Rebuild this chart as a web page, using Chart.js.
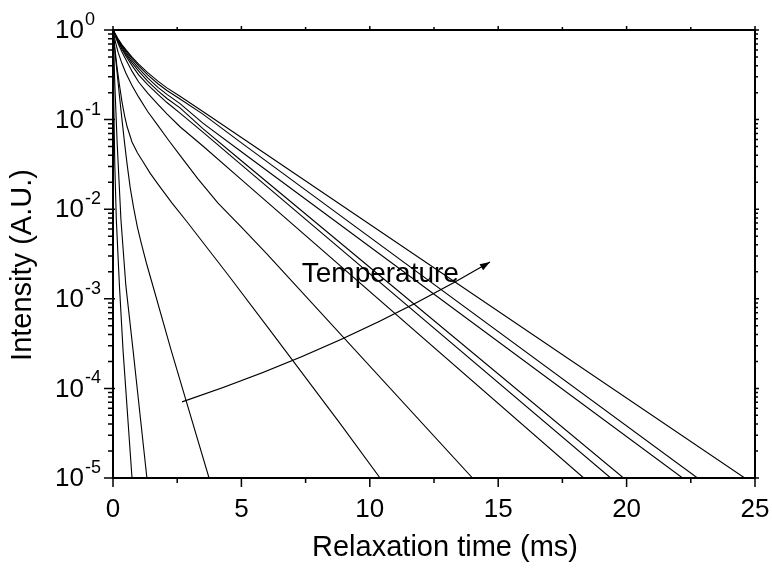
<!DOCTYPE html>
<html>
<head>
<meta charset="utf-8">
<script src="https://cdn.jsdelivr.net/npm/chart.js@4.4.0/dist/chart.umd.min.js"></script>
<style>
  html, body { margin: 0; padding: 0; background: #fff; }
</style>
</head>
<body>
<canvas id="chart" width="772" height="568"></canvas>
<script>
// decay curves, [time (ms), intensity], fastest first
const curveA = [[0, 1], [0.03, 0.158], [0.07, 0.0316], [0.13, 7.59e-3], [0.25, 1.41e-3], [0.39, 2.69e-4], [0.74, 1e-5]];
const curveB = [[0, 1], [0.07, 0.251], [0.16, 0.0562], [0.31, 7.59e-3], [0.5, 1.41e-3], [0.78, 2.69e-4], [1.32, 1e-5]];
const curveC = [[0, 1], [0.07, 0.603], [0.15, 0.355], [0.25, 0.186], [0.35, 0.1], [0.45, 0.055], [0.55, 0.0316], [0.67, 0.0174],
  [0.8, 0.0105], [0.95, 6.31e-3], [1.1, 4.17e-3], [1.3, 2.51e-3], [1.5, 1.58e-3], [2.26, 2.69e-4], [3.74, 1e-5]];
const curveD = [[0, 1], [0.07, 0.631], [0.15, 0.398], [0.25, 0.245], [0.35, 0.158], [0.45, 0.111], [0.55, 0.0832], [0.74, 0.0562],
  [0.95, 0.0427], [1.17, 0.0339], [1.45, 0.0251], [1.8, 0.0182], [2.3, 0.0117], [2.88, 7.24e-3], [4.5, 1.82e-3],
  [6.11, 4.47e-4], [8.84, 4.07e-5], [10.4, 1e-5]];
const curveE = [[0, 1], [0.1, 0.724], [0.2, 0.562], [0.35, 0.422], [0.5, 0.331], [0.75, 0.237], [1.0, 0.178], [1.35, 0.123],
  [1.71, 0.0891], [2.15, 0.0596], [2.61, 0.0398], [3.3, 0.0219], [4.09, 0.0117], [5, 6.31e-3], [6, 3.16e-3], [14.0, 1e-5]];
const curveF = [[0, 1], [0.2, 0.708], [0.35, 0.569], [0.5, 0.468], [0.75, 0.343], [1, 0.263], [1.35, 0.197], [1.75, 0.148],
  [2.1, 0.116], [2.61, 0.0832], [3.5, 0.0507], [5, 0.0214], [18.33, 1e-5]];
const curveG = [[0, 1], [0.2, 0.741], [0.35, 0.610], [0.5, 0.513], [0.75, 0.398], [1, 0.316], [1.35, 0.245], [1.75, 0.191],
  [2.1, 0.155], [2.61, 0.118], [3.5, 0.0724], [5, 0.0313], [19.38, 1e-5]];
const curveH = [[0, 1], [0.2, 0.759], [0.35, 0.631], [0.5, 0.537], [0.75, 0.427], [1, 0.347], [1.35, 0.269], [1.75, 0.209],
  [2.1, 0.172], [2.61, 0.135], [3.5, 0.0794], [5, 0.0347], [19.88, 1e-5]];
const curveI = [[0, 1], [0.2, 0.776], [0.35, 0.653], [0.5, 0.562], [0.75, 0.452], [1, 0.372], [1.35, 0.292], [1.75, 0.229],
  [2.1, 0.191], [2.61, 0.151], [3.5, 0.0912], [5, 0.0437], [22.18, 1e-5]];
const curveJ = [[0, 1], [0.2, 0.785], [0.35, 0.673], [0.5, 0.589], [0.75, 0.479], [1, 0.398], [1.35, 0.316], [1.75, 0.251],
  [2.1, 0.211], [2.61, 0.170], [3.5, 0.115], [5, 0.0550], [22.76, 1e-5]];
const curveK = [[0, 1], [0.2, 0.794], [0.35, 0.684], [0.5, 0.603], [0.75, 0.495], [1, 0.417], [1.35, 0.335], [1.75, 0.269],
  [2.1, 0.226], [2.61, 0.182], [3.5, 0.123], [5, 0.0631], [24.6, 1e-5]];
const curves = [curveA, curveB, curveC, curveD, curveE, curveF, curveG, curveH, curveI, curveJ, curveK];

const xTicks = [0, 5, 10, 15, 20, 25];
const yDecades = [1, 0.1, 0.01, 1e-3, 1e-4, 1e-5];
const yExponents = ['0', '-1', '-2', '-3', '-4', '-5'];
const xTitle = 'Relaxation time (ms)';
const yTitle = 'Intensity (A.U.)';

// arrow (start, through, end) and its label, in data units
const arrowPts = [[2.69, 7.08e-5], [8.84, 3.47e-4], [14.68, 2.57e-3]];
const arrowLabel = { text: 'Temperature', x: 7.35, y: 1.55e-3 };

const FONT = '"Liberation Sans", Arial, Helvetica, sans-serif';

const frame = {
  id: 'frame',
  afterDatasetsDraw(chart) {
    const { ctx, chartArea: a, scales: { x, y } } = chart;
    ctx.save();
    ctx.strokeStyle = '#000';
    ctx.fillStyle = '#000';

    // arrow
    const p = arrowPts.map(([u, v]) => [x.getPixelForValue(u), y.getPixelForValue(v)]);
    const cx = 2 * p[1][0] - (p[0][0] + p[2][0]) / 2;
    const cy = 2 * p[1][1] - (p[0][1] + p[2][1]) / 2;
    ctx.lineWidth = 1.2;
    ctx.beginPath();
    ctx.moveTo(p[0][0], p[0][1]);
    ctx.quadraticCurveTo(cx, cy, p[2][0], p[2][1]);
    ctx.stroke();
    const ang = Math.atan2(p[2][1] - cy, p[2][0] - cx);
    ctx.beginPath();
    ctx.moveTo(p[2][0], p[2][1]);
    ctx.lineTo(p[2][0] - 10 * Math.cos(ang) + 3.5 * Math.sin(ang), p[2][1] - 10 * Math.sin(ang) - 3.5 * Math.cos(ang));
    ctx.lineTo(p[2][0] - 10 * Math.cos(ang) - 3.5 * Math.sin(ang), p[2][1] - 10 * Math.sin(ang) + 3.5 * Math.cos(ang));
    ctx.closePath();
    ctx.fill();

    ctx.font = '28px ' + FONT;
    ctx.textAlign = 'left';
    ctx.textBaseline = 'alphabetic';
    ctx.fillText(arrowLabel.text, x.getPixelForValue(arrowLabel.x), y.getPixelForValue(arrowLabel.y));

    // box
    ctx.lineWidth = 2;
    ctx.strokeRect(a.left, a.top, a.right - a.left, a.bottom - a.top);

    // x ticks, bottom and top
    ctx.lineWidth = 1.5;
    ctx.beginPath();
    for (let v = 0; v <= 25; v += 2.5) {
      const px = x.getPixelForValue(v);
      const major = v % 5 === 0;
      ctx.moveTo(px, a.bottom);
      ctx.lineTo(px, a.bottom + (major ? 9 : 5));
      ctx.moveTo(px, a.top);
      ctx.lineTo(px, a.top - (major ? 4 : 3));
    }
    // y ticks, left and right
    yDecades.forEach((d, i) => {
      const py = y.getPixelForValue(d);
      ctx.moveTo(a.left - 9, py);
      ctx.lineTo(a.left + 2, py);
      ctx.moveTo(a.right, py);
      ctx.lineTo(a.right + 4, py);
      if (i < yDecades.length - 1) {
        for (let m = 2; m <= 9; m++) {
          const pm = y.getPixelForValue(m * yDecades[i + 1]);
          ctx.moveTo(a.left - 5, pm);
          ctx.lineTo(a.left, pm);
          ctx.moveTo(a.right, pm);
          ctx.lineTo(a.right + 3, pm);
        }
      }
    });
    ctx.stroke();

    // y labels 10^n
    yDecades.forEach((d, i) => {
      const py = y.getPixelForValue(d);
      ctx.font = '26px ' + FONT;
      ctx.textAlign = 'right';
      ctx.textBaseline = 'middle';
      ctx.fillText('10', 84, py + 1);
      ctx.font = '18px ' + FONT;
      ctx.textAlign = 'left';
      ctx.textBaseline = 'alphabetic';
      ctx.fillText(yExponents[i], 85, py - 5);
    });

    // axis titles
    ctx.font = '29px ' + FONT;
    ctx.textAlign = 'center';
    ctx.textBaseline = 'middle';
    ctx.fillText(xTitle, (a.left + a.right) / 2 + 11, a.bottom + 70);
    ctx.translate(23, (a.top + a.bottom) / 2 + 11);
    ctx.rotate(-Math.PI / 2);
    ctx.fillText(yTitle, 0, 0);
    ctx.restore();
  }
};

new Chart(document.getElementById('chart'), {
  type: 'line',
  data: {
    datasets: curves.map(c => ({
      data: c.map(([t, v]) => ({ x: t, y: v })),
      borderColor: '#000',
      borderWidth: 1.1,
      pointRadius: 0,
      tension: 0,
      fill: false
    }))
  },
  options: {
    responsive: false,
    animation: false,
    devicePixelRatio: 1,
    layout: { padding: { top: 30, right: 17, left: 0, bottom: 0 } },
    plugins: { legend: { display: false }, tooltip: { enabled: false } },
    scales: {
      x: {
        type: 'linear',
        min: 0,
        max: 25,
        afterBuildTicks: s => { s.ticks = xTicks.map(v => ({ value: v })); },
        afterFit: s => { s.height = 90; s.paddingLeft = 0; s.paddingRight = 0; },
        grid: { display: false, drawTicks: false },
        border: { display: false },
        ticks: { color: '#000', padding: 16, font: { family: FONT, size: 26 } },
        title: { display: false }
      },
      y: {
        type: 'logarithmic',
        min: 1e-5,
        max: 1,
        afterFit: s => { s.width = 113; s.paddingTop = 0; s.paddingBottom = 0; },
        grid: { display: false, drawTicks: false },
        border: { display: false },
        ticks: { display: false },
        title: { display: false }
      }
    }
  },
  plugins: [frame]
});
</script>
</body>
</html>
